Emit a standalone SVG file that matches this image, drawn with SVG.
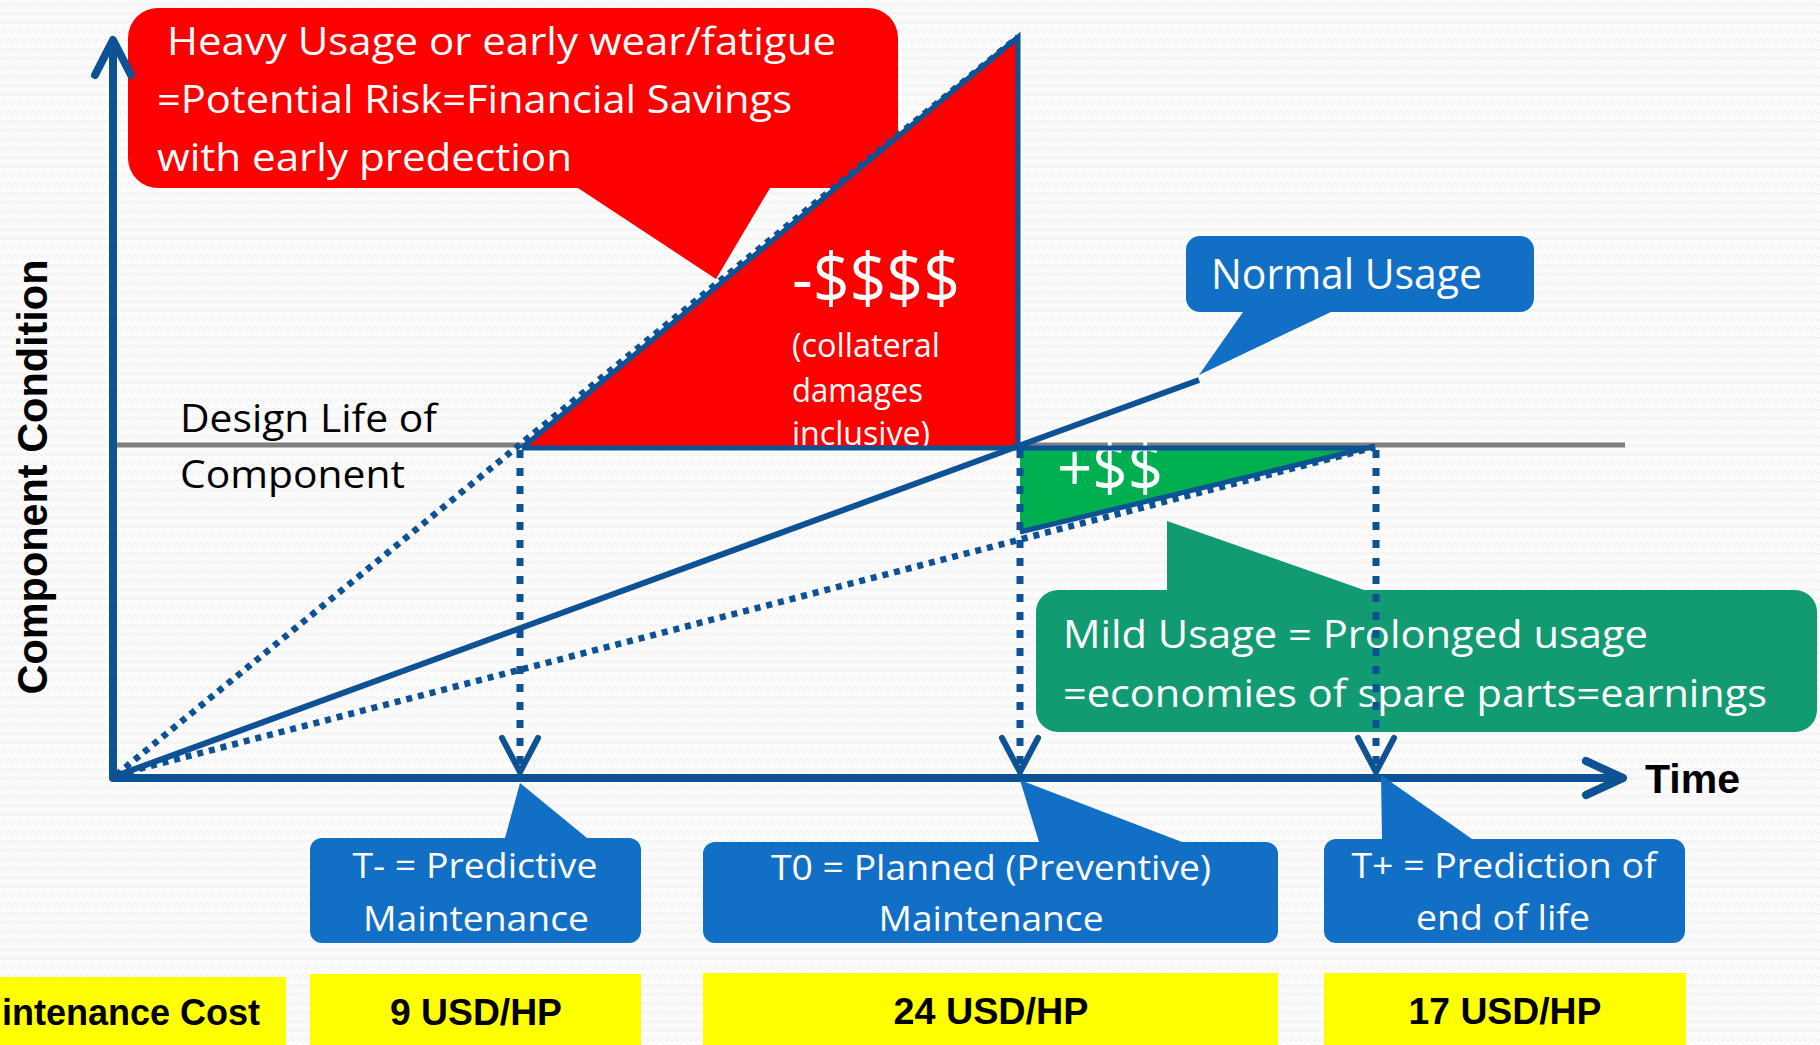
<svg xmlns="http://www.w3.org/2000/svg" width="1820" height="1045" viewBox="0 0 1820 1045">
  <defs>
    <pattern id="weave" width="12" height="9" patternUnits="userSpaceOnUse">
      <rect width="12" height="9" fill="#fbfbfb"/>
      <path d="M0 6 L3 3 L6 6 L9 3 L12 6" fill="none" stroke="#ececec" stroke-width="1"/>
    </pattern>
  </defs>
  <style>
    .axis{fill:none;stroke:#0d5295;stroke-width:8;stroke-linecap:round;stroke-linejoin:round}
    .solid{fill:none;stroke:#0d5295;stroke-width:6}
    .edge{fill:none;stroke:#0d5295;stroke-width:5}
    .dots{fill:none;stroke:#0d5295;stroke-width:6.5;stroke-dasharray:6 6}
    .drop{fill:none;stroke:#0d5295;stroke-width:7;stroke-dasharray:8 10}
    .tip{fill:none;stroke:#0d5295;stroke-width:6;stroke-linecap:round;stroke-linejoin:round}
    .life{fill:none;stroke:#808080;stroke-width:5}
    .w{font-family:"Open Sans","Liberation Sans",sans-serif;fill:#ffffff}
    .k{font-family:"Open Sans","Liberation Sans",sans-serif;fill:#000000}
    .b{font-family:"Liberation Sans",Arial,sans-serif;font-weight:bold;fill:#000000}
    .blue{fill:#1170c6}
    .cost{fill:#ffff00}
  </style>

  <!-- textured backdrop -->
  <rect width="1820" height="1045" fill="url(#weave)"/>

  <!-- heavy usage callout -->
  <g id="heavy-usage">
    <path fill="#ff0000" d="M158,8 H868 A30 30 0 0 1 898,38 V158 A30 30 0 0 1 868,188 H770 L716,279 L578,188 H158 A30 30 0 0 1 128,158 V38 A30 30 0 0 1 158,8 Z"/>
    <text class="w" x="167" y="55" font-size="39" textLength="669" lengthAdjust="spacingAndGlyphs">Heavy Usage or early wear/fatigue</text>
    <text class="w" x="157" y="113" font-size="39" textLength="635" lengthAdjust="spacingAndGlyphs">=Potential Risk=Financial Savings</text>
    <text class="w" x="157" y="171" font-size="39" textLength="415" lengthAdjust="spacingAndGlyphs">with early predection</text>
  </g>

  <!-- normal usage callout -->
  <g id="normal-usage">
    <path class="blue" d="M1200,236 H1520 A14 14 0 0 1 1534,250 V298 A14 14 0 0 1 1520,312 H1331 L1199,375 L1243,312 H1200 A14 14 0 0 1 1186,298 V250 A14 14 0 0 1 1200,236 Z"/>
    <text class="w" x="1211" y="289" font-size="42" textLength="271" lengthAdjust="spacingAndGlyphs">Normal Usage</text>
  </g>

  <!-- mild usage callout -->
  <g id="mild-usage">
    <path fill="#129b73" d="M1058,590 H1167 V521 L1364,590 H1795 A22 22 0 0 1 1817,612 V710 A22 22 0 0 1 1795,732 H1058 A22 22 0 0 1 1036,710 V612 A22 22 0 0 1 1058,590 Z"/>
    <text class="w" x="1063" y="648" font-size="38" textLength="585" lengthAdjust="spacingAndGlyphs">Mild Usage = Prolonged usage</text>
    <text class="w" x="1063" y="707" font-size="38" textLength="704" lengthAdjust="spacingAndGlyphs">=economies of spare parts=earnings</text>
  </g>

  <!-- design life reference -->
  <g id="design-life">
    <line class="life" x1="113" y1="445" x2="1625" y2="445"/>
    <text class="k" x="180" y="432" font-size="39" textLength="257" lengthAdjust="spacingAndGlyphs">Design Life of</text>
    <text class="k" x="180" y="488" font-size="39" textLength="225" lengthAdjust="spacingAndGlyphs">Component</text>
  </g>

  <!-- loss area, early failure -->
  <g id="loss-area">
    <polygon points="522,448 1018,37 1018,448" fill="#ff0000"/>
    <text class="w" x="792" y="303" font-size="70" textLength="168" lengthAdjust="spacingAndGlyphs">-$$$$</text>
    <text class="w" x="792" y="357" font-size="32" textLength="148" lengthAdjust="spacingAndGlyphs">(collateral</text>
    <text class="w" x="792" y="402" font-size="32" textLength="131" lengthAdjust="spacingAndGlyphs">damages</text>
    <text class="w" x="792" y="445" font-size="32" textLength="138" lengthAdjust="spacingAndGlyphs">inclusive)</text>
  </g>

  <!-- gain area, prolonged use -->
  <g id="gain-area">
    <polygon points="1020,448 1375,448 1020,534" fill="#00b050"/>
    <text class="w" x="1057" y="491" font-size="66" textLength="106" lengthAdjust="spacingAndGlyphs">+$$</text>
  </g>

  <!-- condition curves, drop lines and axes -->
  <g id="connectors">
    <line class="dots" x1="116" y1="775" x2="1018" y2="37"/>
    <line class="dots" x1="116" y1="775" x2="1375" y2="447"/>
    <line class="solid" x1="113" y1="777" x2="1199" y2="380"/>
    <polyline class="edge" points="522,448 1018,37 1018,448 522,448"/>
    <line class="edge" x1="1018" y1="448" x2="1375" y2="448"/>
    <line class="edge" x1="1020" y1="532" x2="1375" y2="446"/>

    <line class="drop" x1="520" y1="450" x2="520" y2="770"/>
    <line class="drop" x1="1020" y1="450" x2="1020" y2="770"/>
    <line class="drop" x1="1376" y1="450" x2="1376" y2="770"/>
    <polyline class="tip" points="502,738 520,772 538,738"/>
    <polyline class="tip" points="1002,738 1020,772 1038,738"/>
    <polyline class="tip" points="1358,738 1376,772 1394,738"/>

    <polyline class="axis" points="113,42 113,778 1622,778"/>
    <polyline class="axis" points="95,75 113,40 131,75"/>
    <polyline class="axis" points="1586,761 1623,778 1586,795"/>
  </g>

  <!-- axis titles -->
  <g id="axis-y-title">
    <text class="b" x="47" y="477" font-size="42" text-anchor="middle" textLength="435" lengthAdjust="spacingAndGlyphs" transform="rotate(-90 47 477)">Component Condition</text>
  </g>
  <g id="axis-x-title">
    <text class="b" x="1645" y="793" font-size="41" textLength="95" lengthAdjust="spacingAndGlyphs">Time</text>
  </g>

  <!-- time markers -->
  <g id="t-minus">
    <path class="blue" d="M322,838 H505 L520,783 L587,838 H629 A12 12 0 0 1 641,850 V931 A12 12 0 0 1 629,943 H322 A12 12 0 0 1 310,931 V850 A12 12 0 0 1 322,838 Z"/>
    <text class="w" x="475" y="878" font-size="35" text-anchor="middle" textLength="245" lengthAdjust="spacingAndGlyphs">T- = Predictive</text>
    <text class="w" x="476" y="931" font-size="35" text-anchor="middle" textLength="226" lengthAdjust="spacingAndGlyphs">Maintenance</text>
  </g>
  <g id="t-zero">
    <path class="blue" d="M715,842 H1039 L1020,780 L1182,842 H1266 A12 12 0 0 1 1278,854 V931 A12 12 0 0 1 1266,943 H715 A12 12 0 0 1 703,931 V854 A12 12 0 0 1 715,842 Z"/>
    <text class="w" x="991" y="880" font-size="35" text-anchor="middle" textLength="440" lengthAdjust="spacingAndGlyphs">T0 = Planned (Preventive)</text>
    <text class="w" x="991" y="931" font-size="35" text-anchor="middle" textLength="225" lengthAdjust="spacingAndGlyphs">Maintenance</text>
  </g>
  <g id="t-plus">
    <path class="blue" d="M1336,839 H1382 L1381,775 L1472,839 H1673 A12 12 0 0 1 1685,851 V931 A12 12 0 0 1 1673,943 H1336 A12 12 0 0 1 1324,931 V851 A12 12 0 0 1 1336,839 Z"/>
    <text class="w" x="1504" y="878" font-size="35" text-anchor="middle" textLength="305" lengthAdjust="spacingAndGlyphs">T+ = Prediction of</text>
    <text class="w" x="1503" y="930" font-size="35" text-anchor="middle" textLength="174" lengthAdjust="spacingAndGlyphs">end of life</text>
  </g>

  <!-- cost row -->
  <g id="cost-label">
    <rect class="cost" x="0" y="977" width="286" height="68"/>
    <text class="b" x="2" y="1025" font-size="36" textLength="258" lengthAdjust="spacingAndGlyphs">intenance Cost</text>
  </g>
  <g id="cost-t-minus">
    <rect class="cost" x="310" y="974" width="331" height="71"/>
    <text class="b" x="476" y="1025" font-size="36" text-anchor="middle" textLength="172" lengthAdjust="spacingAndGlyphs">9 USD/HP</text>
  </g>
  <g id="cost-t-zero">
    <rect class="cost" x="703" y="973" width="575" height="72"/>
    <text class="b" x="991" y="1024" font-size="36" text-anchor="middle" textLength="195" lengthAdjust="spacingAndGlyphs">24 USD/HP</text>
  </g>
  <g id="cost-t-plus">
    <rect class="cost" x="1324" y="973" width="362" height="72"/>
    <text class="b" x="1505" y="1024" font-size="36" text-anchor="middle" textLength="193" lengthAdjust="spacingAndGlyphs">17 USD/HP</text>
  </g>
</svg>
